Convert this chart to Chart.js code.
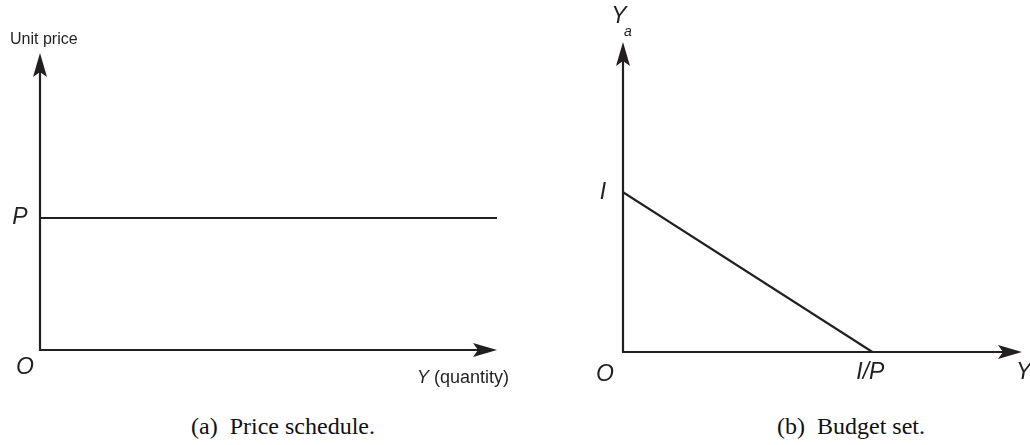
<!DOCTYPE html>
<html>
<head>
<meta charset="utf-8">
<script src="https://cdn.jsdelivr.net/npm/chart.js@4.4.1/dist/chart.umd.min.js"></script>
<style>
body{margin:0;background:#fff;width:1030px;height:445px;overflow:hidden;position:relative}
canvas{position:absolute;top:0}
.cap{position:absolute;top:413px;transform:translateX(-50%);font-family:"Liberation Serif","Times New Roman",serif;font-size:24px;color:#111;white-space:pre}
</style>
</head>
<body>
<canvas id="priceChart" width="515" height="400" style="left:0"></canvas>
<canvas id="budgetChart" width="515" height="400" style="left:515px"></canvas>
<div class="cap" style="left:283px">(a)  Price schedule.</div>
<div class="cap" style="left:851px">(b)  Budget set.</div>
<script>
// (a) price schedule: flat unit price P for any quantity
const priceQty = [0, 10]
const priceUnit = [4, 4]
const priceRange = [10, 9]      // x max, y max

// (b) budget set: line from I on the Ya axis to I/P on the Y axis
const budgetY = [0, 10]
const budgetYa = [10, 0]
const budgetRange = [16, 19.4]

const INK = "#231f20"
const SANS = "\"Liberation Sans\", Arial, sans-serif"

function arrow(ctx, x, y, dir){
    let L = 24, h = 7, n = 5
    ctx.beginPath()
    if (dir == "right"){
        ctx.moveTo(x, y)
        ctx.lineTo(x - L, y - h)
        ctx.lineTo(x - L + n, y)
        ctx.lineTo(x - L, y + h)
    } else {
        ctx.moveTo(x, y)
        ctx.lineTo(x - h, y + L)
        ctx.lineTo(x, y + L - n)
        ctx.lineTo(x + h, y + L)
    }
    ctx.closePath()
    ctx.fill()
}

// draws both axes with arrow heads, then the text labels
const axesPlugin = {
    id: "axesArrows",
    afterDraw(chart, args, opts){
        let ctx = chart.ctx
        let xs = chart.scales.x, ys = chart.scales.y
        let ox = xs.getPixelForValue(0), oy = ys.getPixelForValue(0)
        let tx = xs.getPixelForValue(xs.max), ty = ys.getPixelForValue(ys.max)
        ctx.save()
        ctx.strokeStyle = INK
        ctx.fillStyle = INK
        ctx.lineWidth = 2.2
        ctx.beginPath()
        ctx.moveTo(ox, ty + 10)
        ctx.lineTo(ox, oy)
        ctx.lineTo(tx - 10, oy)
        ctx.stroke()
        arrow(ctx, tx, oy, "right")
        arrow(ctx, ox, ty, "up")

        ctx.textBaseline = "middle"
        opts.labels.forEach(l => {
            let px = xs.getPixelForValue(l.x) + l.dx
            let py = ys.getPixelForValue(l.y) + l.dy
            ctx.textAlign = l.align || "center"
            let parts = l.parts || [[l.text, l.italic !== false]]
            parts.forEach(p => {
                ctx.font = (p[1] ? "italic " : "") + (l.size || 23) + "px " + SANS
                ctx.fillText(p[0], px, py)
                px += ctx.measureText(p[0]).width
            })
        })
        ctx.restore()
    }
}

function baseOptions(range, padding, labels){
    return {
        responsive: false,
        devicePixelRatio: 1,
        animation: false,
        layout: { padding: padding },
        plugins: {
            legend: { display: false },
            tooltip: { enabled: false },
            axesArrows: { labels: labels }
        },
        scales: {
            x: { type: "linear", min: 0, max: range[0], display: false },
            y: { type: "linear", min: 0, max: range[1], display: false }
        }
    }
}

function toPoints(xs, ys){
    return xs.map((x, i) => ({ x: x, y: ys[i] }))
}

new Chart(document.getElementById("priceChart"), {
    type: "scatter",
    data: {
        datasets: [{
            data: toPoints(priceQty, priceUnit),
            showLine: true,
            borderColor: INK,
            borderWidth: 2.2,
            pointRadius: 0
        }]
    },
    options: baseOptions(priceRange, { left: 40, top: 53, right: 18, bottom: 50 }, [
        { text: "Unit price", x: 0, y: priceRange[1], dx: -30, dy: -13, align: "left", italic: false, size: 16 },
        { text: "P", x: 0, y: priceUnit[0], dx: -20, dy: 0 },
        { text: "O", x: 0, y: 0, dx: -15, dy: 18 },
        { parts: [["Y", true], [" (quantity)", false]], x: priceRange[0], y: 0, dx: -80, dy: 28, align: "left", size: 18 }
    ]),
    plugins: [axesPlugin]
})

new Chart(document.getElementById("budgetChart"), {
    type: "scatter",
    data: {
        datasets: [{
            data: toPoints(budgetY, budgetYa),
            showLine: true,
            borderColor: INK,
            borderWidth: 2.2,
            pointRadius: 0
        }]
    },
    options: baseOptions(budgetRange, { left: 108, top: 42, right: 8, bottom: 48 }, [
        { text: "Y", x: 0, y: budgetRange[1], dx: -4, dy: -25 },
        { text: "a", x: 0, y: budgetRange[1], dx: 5, dy: -10, size: 14 },
        { text: "I", x: 0, y: budgetYa[0], dx: -20, dy: 0 },
        { text: "O", x: 0, y: 0, dx: -18, dy: 23 },
        { text: "I/P", x: budgetY[1], y: 0, dx: -2, dy: 21 },
        { text: "Y", x: budgetRange[0], y: 0, dx: -6, dy: 21, align: "left" }
    ]),
    plugins: [axesPlugin]
})
</script>
</body>
</html>
